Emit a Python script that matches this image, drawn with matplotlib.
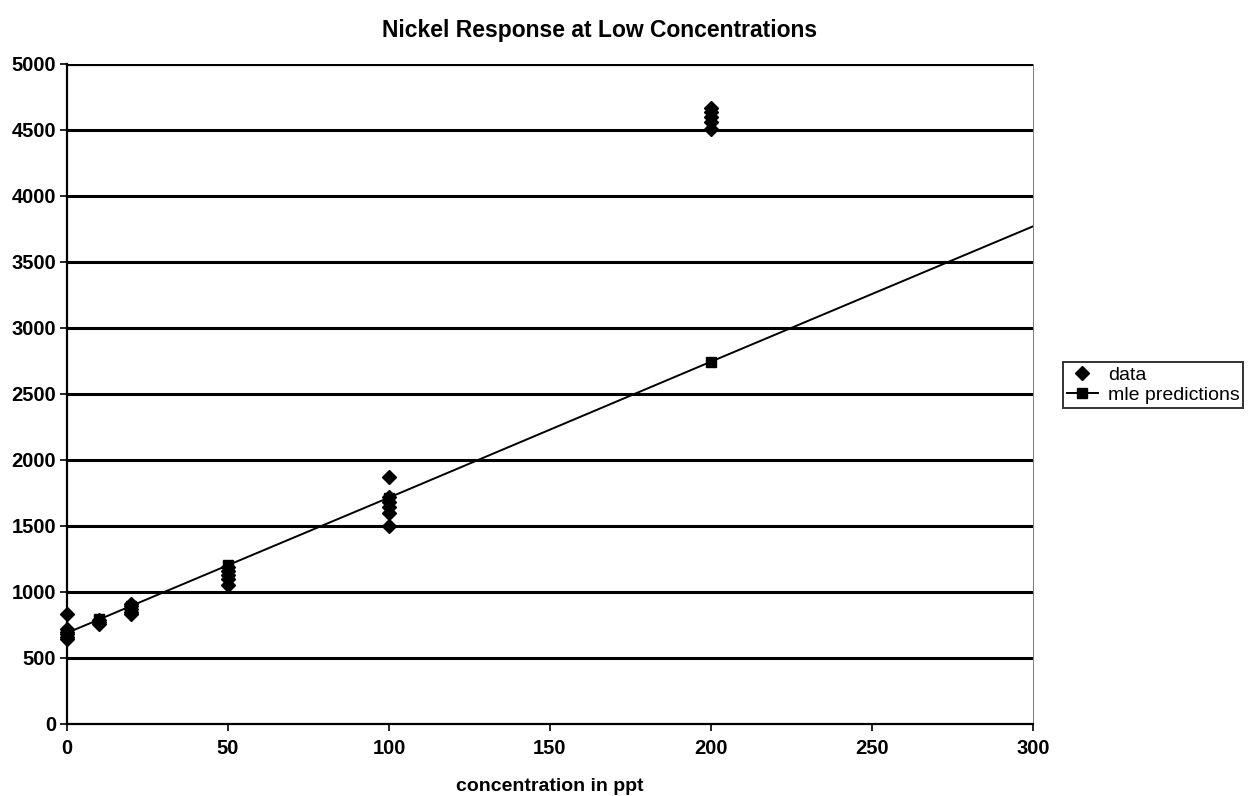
import matplotlib
matplotlib.use("Agg")
import matplotlib.pyplot as plt
import numpy as np

# ---------------------------------------------------------------------------
# Data
# ---------------------------------------------------------------------------
data_x = [0, 0, 0, 0, 0, 0,
          10, 10, 10,
          20, 20, 20, 20, 20,
          50, 50, 50, 50, 50,
          100, 100, 100, 100, 100, 100,
          200, 200, 200, 200, 200]
data_y = [640, 660, 680, 700, 720, 830,
          760, 775, 790,
          830, 850, 870, 890, 910,
          1050, 1100, 1130, 1160, 1190,
          1500, 1600, 1640, 1680, 1720, 1870,
          4510, 4560, 4600, 4640, 4670]

pred_x = [0, 10, 20, 50, 100, 200, 300]
pred_y = [690, 792, 895, 1203, 1715, 2745, 3770]

y_ticks = list(range(0, 5001, 500))
x_ticks = [0, 50, 100, 150, 200, 250, 300]

plt.rcParams["font.family"] = ["Liberation Sans", "DejaVu Sans"]

fig = plt.figure(figsize=(12.5, 7.96), dpi=100)
ax = fig.add_axes([0.0536, 0.0905, 0.7728, 0.8291])

# horizontal gridlines drawn heavy like the original
for yv in y_ticks[1:]:
    ax.axhline(yv, color="black", lw=2.2 if yv < 5000 else 3, zorder=1)

ax.plot(data_x, data_y, ls="none", marker="D", ms=7, color="black",
        label="data", zorder=3, clip_on=False)
ax.plot(pred_x, pred_y, color="black", lw=1.4, marker="s", ms=7,
        markevery=list(range(len(pred_x) - 1)), label="mle predictions",
        zorder=4)

ax.set_xlim(0, 300)
ax.set_ylim(0, 5000)
ax.set_yticks(y_ticks)
ax.set_xticks(x_ticks)
ax.tick_params(axis="y", direction="out", length=5, width=1.2,
               labelsize=14.5, pad=3)
ax.tick_params(axis="x", direction="out", length=5, width=1.2,
               labelsize=14.5, pad=6)
for lab in ax.get_xticklabels() + ax.get_yticklabels():
    lab.set_fontweight("bold")

ax.spines["left"].set_linewidth(1.6)
ax.spines["bottom"].set_linewidth(1.6)
ax.spines["top"].set_visible(False)
ax.spines["right"].set_linewidth(0.6)
ax.spines["right"].set_color("0.4")
ax.set_facecolor("white")

fig.text(600 / 1250, 1 - 30 / 796, "Nickel Response at Low Concentrations",
         fontsize=16.5, fontweight="bold", ha="center", va="center")
ax.set_xlabel("concentration in ppt", fontsize=14, fontweight="bold",
              labelpad=14)

leg = fig.legend(loc="upper left", bbox_to_anchor=(0.8504, 0.545),
                 frameon=True, fancybox=False, edgecolor="black",
                 fontsize=14, handlelength=1.6, borderpad=0.2,
                 labelspacing=0.15, handletextpad=0.5, borderaxespad=0)
leg.get_frame().set_linewidth(1.4)

fig.savefig("out.png", dpi=100)
